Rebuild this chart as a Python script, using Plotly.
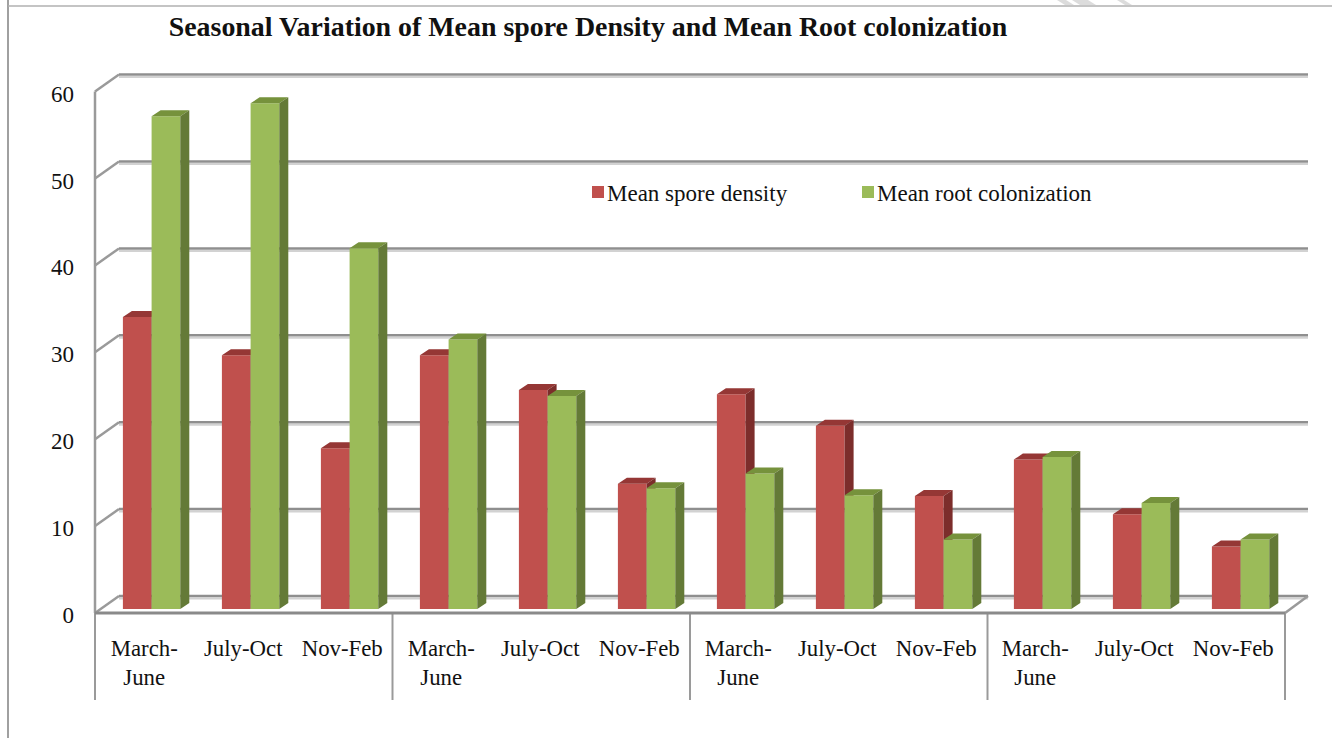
import plotly.graph_objects as go

seasons = ["March-<br>June", "July-Oct", "Nov-Feb"] * 4
mean_spore_density = [33.6, 29.2, 18.5, 29.2, 25.2, 14.4, 24.7, 21.1, 13.0, 17.2, 10.9, 7.2]
mean_root_colonization = [56.7, 58.2, 41.5, 31.0, 24.5, 13.9, 15.6, 13.1, 8.0, 17.5, 12.2, 8.0]
y_ticks = [0, 10, 20, 30, 40, 50, 60]

W, H = 1332, 738
L, R, T, B = 90, 1312, 70, 620          # plot rectangle, px
PX_X, PX_Y = 99.0, 8.69                 # px per category / per value
X0_PX, Y0_PX = 144.2, 613               # px of first category / zero on the front plane
xu = lambda px: px / PX_X
yu = lambda px: px / PX_Y
x_range = [(L - X0_PX) / PX_X, (R - X0_PX) / PX_X]
y_range = [(Y0_PX - B) / PX_Y, (Y0_PX - T) / PX_Y]
px = lambda p: (p - L) / (R - L)
py = lambda p: (B - p) / (B - T)

GRID, GRID_SOFT, AXIS = "#8f8f8f", "#d2d2d2", "#9a9a9a"
RED, RED_TOP, RED_SIDE = "#c0504d", "#953735", "#7c2d2b"
GREEN, GREEN_TOP, GREEN_SIDE = "#9bbb59", "#76923c", "#647a37"
FONT = "Liberation Serif"

BAR_W = xu(28.7)
BAR_SHIFT = xu(7.4)
BAR_BASE = yu(4)
DEP_X, DEP_Y = xu(9), yu(6)
WALL_X, WALL_Y = xu(24), yu(17)
LEFT = (95 - X0_PX) / PX_X
FRONT_RIGHT = (1285 - X0_PX) / PX_X
WALL_RIGHT = (1308 - X0_PX) / PX_X

idx = list(range(len(seasons)))


def faces(vals, off):
    top_x, top_y, side_x, side_y = [], [], [], []
    for i, v in zip(idx, vals):
        a = i + BAR_SHIFT + off - BAR_W / 2
        b = a + BAR_W
        t = BAR_BASE + v
        top_x += [a, b, b + DEP_X, a + DEP_X, a, None]
        top_y += [t, t, t + DEP_Y, t + DEP_Y, t, None]
        side_x += [b, b + DEP_X, b + DEP_X, b, b, None]
        side_y += [BAR_BASE, BAR_BASE + DEP_Y, t + DEP_Y, t, BAR_BASE, None]
    return top_x, top_y, side_x, side_y


def add_series(fig, name, vals, off, c, c_top, c_side, yaxis):
    fig.add_trace(go.Bar(
        x=[i + BAR_SHIFT + off for i in idx], y=vals, base=BAR_BASE, width=BAR_W,
        marker=dict(color=c, line_width=0), name=name, yaxis=yaxis,
        hovertemplate=name + ": %{y}<extra></extra>"))
    tx, ty, sx, sy = faces(vals, off)
    for xs, ys, col in ((tx, ty, c_top), (sx, sy, c_side)):
        fig.add_trace(go.Scatter(x=xs, y=ys, mode="lines", fill="toself", fillcolor=col,
                                 line=dict(width=0, color=col), showlegend=False,
                                 hoverinfo="skip", yaxis=yaxis))


fig = go.Figure()
add_series(fig, "Mean spore density", mean_spore_density, -BAR_W / 2, RED, RED_TOP, RED_SIDE, "y")
add_series(fig, "Mean root colonization", mean_root_colonization, BAR_W / 2, GREEN, GREEN_TOP, GREEN_SIDE, "y2")

shapes = []


def seg(x0, y0, x1, y1, color, width, xref="x", yref="y"):
    shapes.append(dict(type="line", x0=x0, y0=y0, x1=x1, y1=y1, xref=xref, yref=yref,
                       layer="below", line=dict(color=color, width=width)))


for v in y_ticks:
    yw = v + WALL_Y
    seg(LEFT + WALL_X, yw - yu(2.5), WALL_RIGHT, yw - yu(2.5), GRID_SOFT, 2)
    seg(LEFT + WALL_X, yw, WALL_RIGHT, yw, GRID, 2.5)
    seg(LEFT, v, LEFT + WALL_X, yw, AXIS, 2.5)
seg(FRONT_RIGHT, 0, WALL_RIGHT, WALL_Y, AXIS, 2.5)
seg(LEFT, 0, LEFT, 60, AXIS, 2.5)
seg(LEFT, 0, FRONT_RIGHT, 0, "#8a8a8a", 3)
for g in range(5):
    sx = LEFT + g * (FRONT_RIGHT - LEFT) / 4
    seg(sx, py(613), sx, py(700), AXIS, 2, xref="x", yref="paper")

# page frame around the chart
seg(px(8), py(0), px(8), py(738), "#a0a0a0", 2, xref="paper", yref="paper")
seg(px(8), py(6), px(1332), py(6), "#b0b0b0", 1.5, xref="paper", yref="paper")
# scrap of the page's watermark at the top edge
for a, b in ((1057, 1066), (1072, 1088), (1117, 1124)):
    w = b - a
    shapes.append(dict(type="path", xref="paper", yref="paper", layer="below", line_width=0,
                       fillcolor="#dcdcdc",
                       path=f"M{px(a)},{py(0)} L{px(a + w)},{py(0)} L{px(a + w + 8)},{py(5)} L{px(a + 8)},{py(5)} Z"))

fig.update_layout(
    width=W, height=H, autosize=False,
    margin=dict(l=L, r=W - R, t=T, b=H - B, autoexpand=False),
    plot_bgcolor="white", paper_bgcolor="white",
    font=dict(family=FONT, size=23, color="#111111"),
    barmode="overlay", shapes=shapes,
    title=dict(text="<b>Seasonal Variation of Mean spore Density and Mean Root colonization</b>",
               font=dict(family=FONT, size=27.9, color="#111111"),
               xref="paper", yref="container", x=px(588), xanchor="center",
               y=1 - 26 / H, yanchor="middle"),
    xaxis=dict(range=x_range, tickmode="array", tickvals=idx, ticktext=seasons,
               showgrid=False, zeroline=False, showline=False, ticks="",
               ticklabelstandoff=12, tickangle=0, tickfont=dict(family=FONT, size=22.8, color="#111111")),
    yaxis=dict(range=y_range, tickmode="array", tickvals=y_ticks, showgrid=False, zeroline=False,
               showline=False, ticks="", ticklabelstandoff=15, ticklabelshift=2,
               tickfont=dict(family=FONT, size=23, color="#111111")),
    yaxis2=dict(range=y_range, overlaying="y", visible=False),
    legend=dict(orientation="h", x=px(567), y=py(192), xanchor="left", yanchor="middle",
                bgcolor="rgba(0,0,0,0)", font=dict(family=FONT, size=23, color="#111111"),
                entrywidthmode="pixels", entrywidth=225, traceorder="normal"),
)

fig.write_html(
    "out.html",
    config={"displayModeBar": False},
    post_script="document.body.style.margin='0';"
                "document.querySelectorAll('.legendpoints').forEach(function(g){"
                "g.setAttribute('transform','translate(11,0)');});",
)
